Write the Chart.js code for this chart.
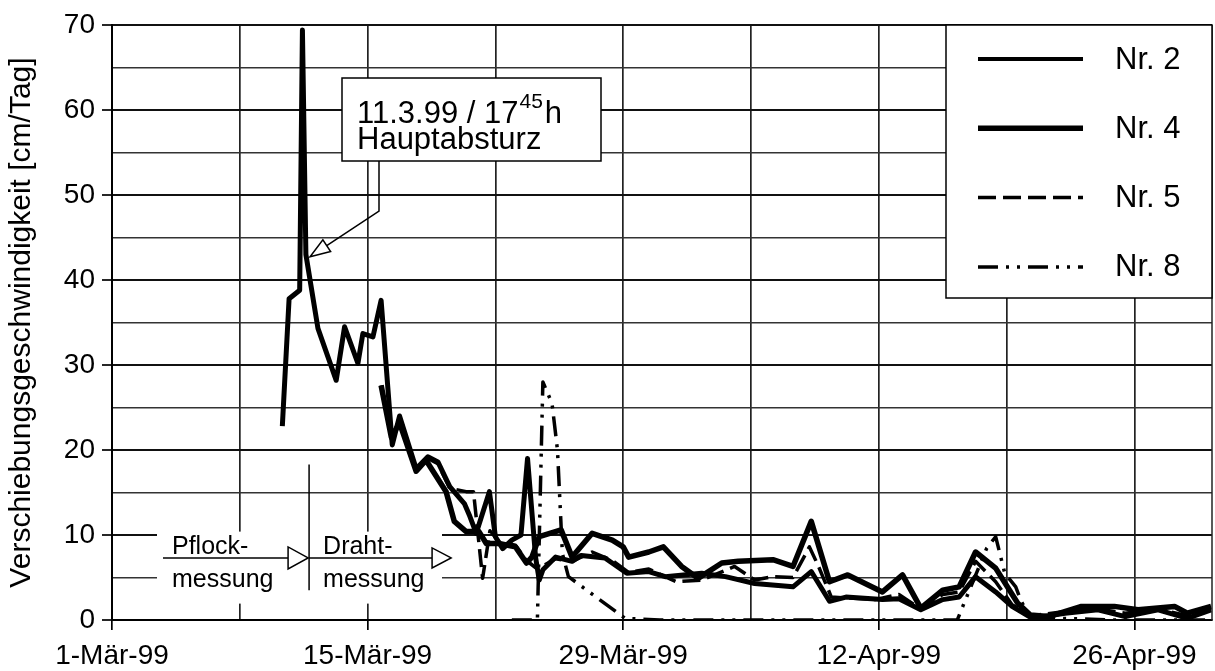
<!DOCTYPE html>
<html>
<head>
<meta charset="utf-8">
<script src="https://cdn.jsdelivr.net/npm/chart.js@4.4.1/dist/chart.umd.min.js"></script>
<style>
html,body{margin:0;padding:0;background:#fff;}
#wrap{width:1215px;height:671px;position:relative;}
</style>
</head>
<body>
<div id="wrap"><canvas id="c" width="1215" height="671"></canvas></div>
<script>
const FONT = "'Liberation Sans', Arial, Helvetica, sans-serif";

// ---- categories / tick labels ----
const seriesLabels = ['Nr. 2', 'Nr. 4', 'Nr. 5', 'Nr. 8'];
const xTickDays = [0, 14, 28, 42, 56];           // days since 1 March 1999
const xTickLabels = ['1-Mär-99', '15-Mär-99', '29-Mär-99', '12-Apr-99', '26-Apr-99'];
const xGridDays = [0, 7, 14, 21, 28, 35, 42, 49, 56];
const yGridValues = [0, 5, 10, 15, 20, 25, 30, 35, 40, 45, 50, 55, 60, 65, 70];
const yTickLabels = [0, 10, 20, 30, 40, 50, 60, 70];
const yTitle = 'Verschiebungsgeschwindigkeit [cm/Tag]';
const crashDay = 10.74;   // 11.3.99 17:45h
const crashValue = 42.5;

// ---- series values (x = days since 1 March 1999, y = cm/Tag) ----
const nr2Days = [9.33, 9.7, 10.28, 10.43, 10.62, 11.28, 12.28, 12.74, 13.47, 13.74, 14.29, 14.74, 15.35, 15.75, 16.66, 17.3, 17.85, 18.5, 19.3, 19.6, 19.95, 20.67, 21.0, 21.4, 21.9, 22.4, 22.76, 23.2, 23.4, 23.6, 24.3, 25.2, 25.7, 27.0, 28.2, 29.4, 30.3, 32.3, 33.6, 35.2, 37.3, 38.3, 39.3, 40.2, 42.2, 43.1, 44.3, 45.5, 46.4, 47.3, 48.4, 49.3, 50.4, 52.2, 54.0, 55.5, 57.3, 58.9, 60.2];
const nr2Values = [22.8, 37.8, 38.8, 69.4, 43.0, 34.3, 28.2, 34.5, 30.2, 33.7, 33.3, 37.6, 20.6, 24.0, 17.8, 19.2, 18.6, 15.7, 13.7, 12.2, 10.2, 15.1, 9.8, 8.4, 9.4, 10.0, 19.0, 7.4, 4.7, 5.9, 7.4, 6.9, 7.6, 7.3, 5.5, 5.7, 5.1, 5.5, 5.1, 4.3, 3.9, 5.7, 2.2, 2.7, 2.4, 2.5, 1.2, 2.4, 2.7, 5.1, 3.3, 1.6, 0.2, 0.8, 1.2, 0.4, 1.2, 0.2, 1.2];

const nr4Days = [14.74, 15.3, 15.75, 16.66, 17.2, 18.3, 18.75, 19.4, 20.1, 20.5, 21.2, 22.1, 22.7, 23.0, 23.4, 24.6, 25.2, 26.3, 27.4, 28.0, 28.3, 29.4, 30.2, 31.2, 32.1, 33.4, 34.3, 36.2, 37.3, 38.3, 39.3, 40.3, 42.2, 43.3, 44.3, 45.5, 46.4, 47.3, 48.4, 49.6, 50.3, 51.3, 53.1, 54.9, 56.2, 58.2, 58.9, 60.2];
const nr4Values = [27.6, 21.5, 23.2, 17.5, 18.8, 15.1, 11.6, 10.4, 10.4, 9.0, 9.0, 8.6, 6.7, 7.4, 9.8, 10.6, 7.4, 10.2, 9.4, 8.6, 7.4, 8.0, 8.6, 6.3, 4.9, 6.7, 6.9, 7.1, 6.3, 11.6, 4.5, 5.3, 3.3, 5.3, 1.4, 3.5, 3.9, 8.0, 6.1, 2.0, 0.6, 0.4, 1.6, 1.6, 1.2, 1.6, 0.8, 1.6];

const nr5Days = [14.74, 15.35, 15.75, 16.66, 17.3, 17.85, 18.5, 19.4, 19.8, 20.3, 20.7, 21.2, 22.1, 22.7, 23.3, 24.3, 25.2, 26.3, 27.4, 28.3, 29.4, 30.9, 32.3, 34.1, 35.2, 36.2, 37.3, 38.2, 38.7, 39.4, 41.8, 43.1, 44.3, 45.5, 46.4, 47.3, 48.4, 49.3, 50.4, 52.2, 54.0, 55.5, 57.3, 58.9, 60.2];
const nr5Values = [27.6, 20.8, 23.8, 17.8, 19.0, 18.4, 15.5, 15.1, 15.1, 4.9, 10.5, 9.2, 8.8, 7.0, 6.0, 7.2, 6.9, 8.0, 7.0, 5.6, 6.0, 4.5, 4.7, 6.3, 4.7, 5.1, 5.0, 8.6, 6.3, 2.7, 2.4, 3.0, 1.3, 3.0, 3.3, 6.9, 4.5, 1.8, 0.5, 1.0, 1.3, 0.8, 1.3, 0.5, 1.4];

const nr8Days = [21.9, 23.3, 23.6, 24.1, 24.4, 24.67, 25.0, 28.1, 30.0, 35.0, 40.0, 46.3, 46.6, 47.9, 48.4, 48.9, 49.5, 49.8, 50.3, 55.0, 60.2];
const nr8Values = [0, 0, 28.0, 25.5, 20.0, 7.8, 5.1, 0.2, 0, 0, 0, 0, 1.6, 8.4, 9.8, 5.5, 3.9, 2.2, 0.3, 0, 0];

function pts(days, vals) { return days.map((d, i) => ({ x: d, y: vals[i] })); }

const styles = [
  { w: 5, dash: [] },
  { w: 5.5, dash: [] },
  { w: 3.5, dash: [18, 7] },
  { w: 3.5, dash: [20, 8, 3, 8, 3, 8] }
];
const legendWidths = [4, 5.5, 3.5, 3.5];
const allDays = [nr2Days, nr4Days, nr5Days, nr8Days];
const allVals = [nr2Values, nr4Values, nr5Values, nr8Values];

const datasets = seriesLabels.map((lab, i) => ({
  label: lab,
  data: pts(allDays[i], allVals[i]),
  borderColor: '#000',
  backgroundColor: '#000',
  borderWidth: styles[i].w,
  borderDash: styles[i].dash,
  borderJoinStyle: 'round',
  borderCapStyle: 'butt',
  pointRadius: 0,
  tension: 0,
  fill: false
}));

function arrowHead(ctx, tipX, tipY, angle, len, half) {
  ctx.save();
  ctx.translate(tipX, tipY);
  ctx.rotate(angle);
  ctx.beginPath();
  ctx.moveTo(0, 0);
  ctx.lineTo(-len, -half);
  ctx.lineTo(-len, half);
  ctx.closePath();
  ctx.fillStyle = '#fff';
  ctx.fill();
  ctx.stroke();
  ctx.restore();
}

const annotPlugin = {
  id: 'annot',
  beforeDatasetsDraw(chart) {
    const { ctx, chartArea: a, scales: { x, y } } = chart;
    ctx.save();
    // white area for the measurement-method annotation
    ctx.fillStyle = '#fff';
    ctx.fillRect(a.left + 45, y.getPixelForValue(10.4), 285, 72);

    const mx = x.getPixelForValue(crashDay);
    const ay = y.getPixelForValue(7.3);
    ctx.strokeStyle = '#000';
    ctx.lineWidth = 1.5;
    // vertical separator
    ctx.beginPath();
    ctx.moveTo(mx + 1, y.getPixelForValue(18.3));
    ctx.lineTo(mx + 1, y.getPixelForValue(3.5));
    ctx.stroke();
    // Pflock arrow
    ctx.beginPath();
    ctx.moveTo(a.left + 51, ay);
    ctx.lineTo(mx - 20, ay);
    ctx.stroke();
    arrowHead(ctx, mx, ay, 0, 20, 11);
    // Draht arrow
    ctx.beginPath();
    ctx.moveTo(mx + 1, ay);
    ctx.lineTo(mx + 124, ay);
    ctx.stroke();
    arrowHead(ctx, mx + 143, ay, 0, 19, 10);

    ctx.fillStyle = '#000';
    ctx.font = '25px ' + FONT;
    ctx.textBaseline = 'alphabetic';
    ctx.textAlign = 'left';
    ctx.fillText('Pflock-', a.left + 60, ay - 4);
    ctx.fillText('messung', a.left + 60, ay + 29);
    ctx.fillText('Draht-', mx + 15, ay - 4);
    ctx.fillText('messung', mx + 15, ay + 29);
    ctx.restore();
  },
  afterDatasetsDraw(chart) {
    const { ctx, chartArea: a, scales: { x, y } } = chart;
    ctx.save();
    // right frame line
    ctx.strokeStyle = '#222';
    ctx.lineWidth = 1.5;
    ctx.beginPath();
    ctx.moveTo(a.right, a.top);
    ctx.lineTo(a.right, a.bottom);
    ctx.stroke();

    // ---- Hauptabsturz box ----
    const bx = 342, by = a.top + 53, bw = 259, bh = 83;
    ctx.fillStyle = '#fff';
    ctx.fillRect(bx, by, bw, bh);
    ctx.strokeStyle = '#000';
    ctx.lineWidth = 1.5;
    ctx.strokeRect(bx, by, bw, bh);
    ctx.fillStyle = '#000';
    ctx.textAlign = 'left';
    ctx.textBaseline = 'alphabetic';
    ctx.font = '31px ' + FONT;
    const t1 = '11.3.99 / 17';
    const tx = bx + 15;
    ctx.fillText(t1, tx, by + 45);
    const w1 = ctx.measureText(t1).width;
    ctx.font = '21px ' + FONT;
    ctx.fillText('45', tx + w1 + 1, by + 30);
    const w2 = ctx.measureText('45').width;
    ctx.font = '31px ' + FONT;
    ctx.fillText('h', tx + w1 + w2 + 3, by + 45);
    ctx.fillText('Hauptabsturz', tx, by + 71);

    // arrow from box to crash point
    const tipX = x.getPixelForValue(crashDay) + 2;
    const tipY = y.getPixelForValue(crashValue) - 2;
    const kx = bx + 37, ky = by + bh + 50;
    const ang = Math.atan2(tipY - ky, tipX - kx);
    const len = 20;
    ctx.lineWidth = 1.5;
    ctx.beginPath();
    ctx.moveTo(kx, by + bh);
    ctx.lineTo(kx, ky);
    ctx.lineTo(tipX - Math.cos(ang) * len, tipY - Math.sin(ang) * len);
    ctx.stroke();
    arrowHead(ctx, tipX, tipY, ang, len, 7);

    // ---- legend ----
    const lx = 946, ly = a.top, lw = a.right - 946, lh = 273;
    ctx.fillStyle = '#fff';
    ctx.fillRect(lx, ly, lw, lh);
    ctx.strokeStyle = '#000';
    ctx.lineWidth = 1.5;
    ctx.strokeRect(lx, ly, lw, lh);
    chart.data.datasets.forEach((ds, i) => {
      const yy = ly + 34 + i * 69.3;
      ctx.save();
      ctx.strokeStyle = '#000';
      ctx.lineWidth = legendWidths[i];
      ctx.setLineDash(ds.borderDash || []);
      ctx.beginPath();
      ctx.moveTo(lx + 32, yy);
      ctx.lineTo(lx + 137, yy);
      ctx.stroke();
      ctx.restore();
      ctx.fillStyle = '#000';
      ctx.font = '31px ' + FONT;
      ctx.textBaseline = 'middle';
      ctx.fillText(ds.label, lx + 169, yy + 1);
    });
    ctx.restore();
  }
};

new Chart(document.getElementById('c'), {
  type: 'line',
  data: { datasets },
  plugins: [annotPlugin],
  options: {
    responsive: false,
    animation: false,
    layout: { padding: { top: 25, right: 3, left: 0, bottom: 0 } },
    plugins: { legend: { display: false }, tooltip: { enabled: false } },
    scales: {
      x: {
        type: 'linear',
        min: 0,
        max: 60.25,
        afterBuildTicks: s => { s.ticks = xGridDays.map(v => ({ value: v })); },
        afterFit: s => { s.height = 51; },
        grid: {
          color: '#222',
          lineWidth: 1.7,
          tickLength: 10,
          tickColor: c => (c.tick && xTickDays.includes(c.tick.value)) ? '#000' : 'rgba(0,0,0,0)',
          tickWidth: 1.7
        },
        border: { color: '#000', width: 2 },
        ticks: {
          autoSkip: false,
          maxRotation: 0,
          color: '#000',
          padding: 9,
          font: { family: FONT, size: 28 },
          callback: v => { const i = xTickDays.indexOf(v); return i >= 0 ? xTickLabels[i] : ''; }
        }
      },
      y: {
        min: 0,
        max: 70,
        afterBuildTicks: s => { s.ticks = yGridValues.map(v => ({ value: v })); },
        afterFit: s => { s.width = 112; },
        grid: {
          color: c => (c.tick && c.tick.value % 10 === 0) ? '#111' : '#333',
          lineWidth: c => (c.tick && c.tick.value % 10 === 0) ? 2 : 1.6,
          tickLength: 10,
          tickColor: c => (c.tick && yTickLabels.includes(c.tick.value)) ? '#000' : 'rgba(0,0,0,0)',
          tickWidth: 1.7
        },
        border: { color: '#000', width: 2 },
        ticks: {
          autoSkip: false,
          color: '#000',
          padding: 7,
          font: { family: FONT, size: 28 },
          callback: v => yTickLabels.includes(v) ? String(v) : ''
        },
        title: {
          display: true,
          text: yTitle,
          color: '#000',
          font: { family: FONT, size: 30 },
          padding: { top: 4, bottom: 0 }
        }
      }
    }
  }
});
</script>
</body>
</html>
